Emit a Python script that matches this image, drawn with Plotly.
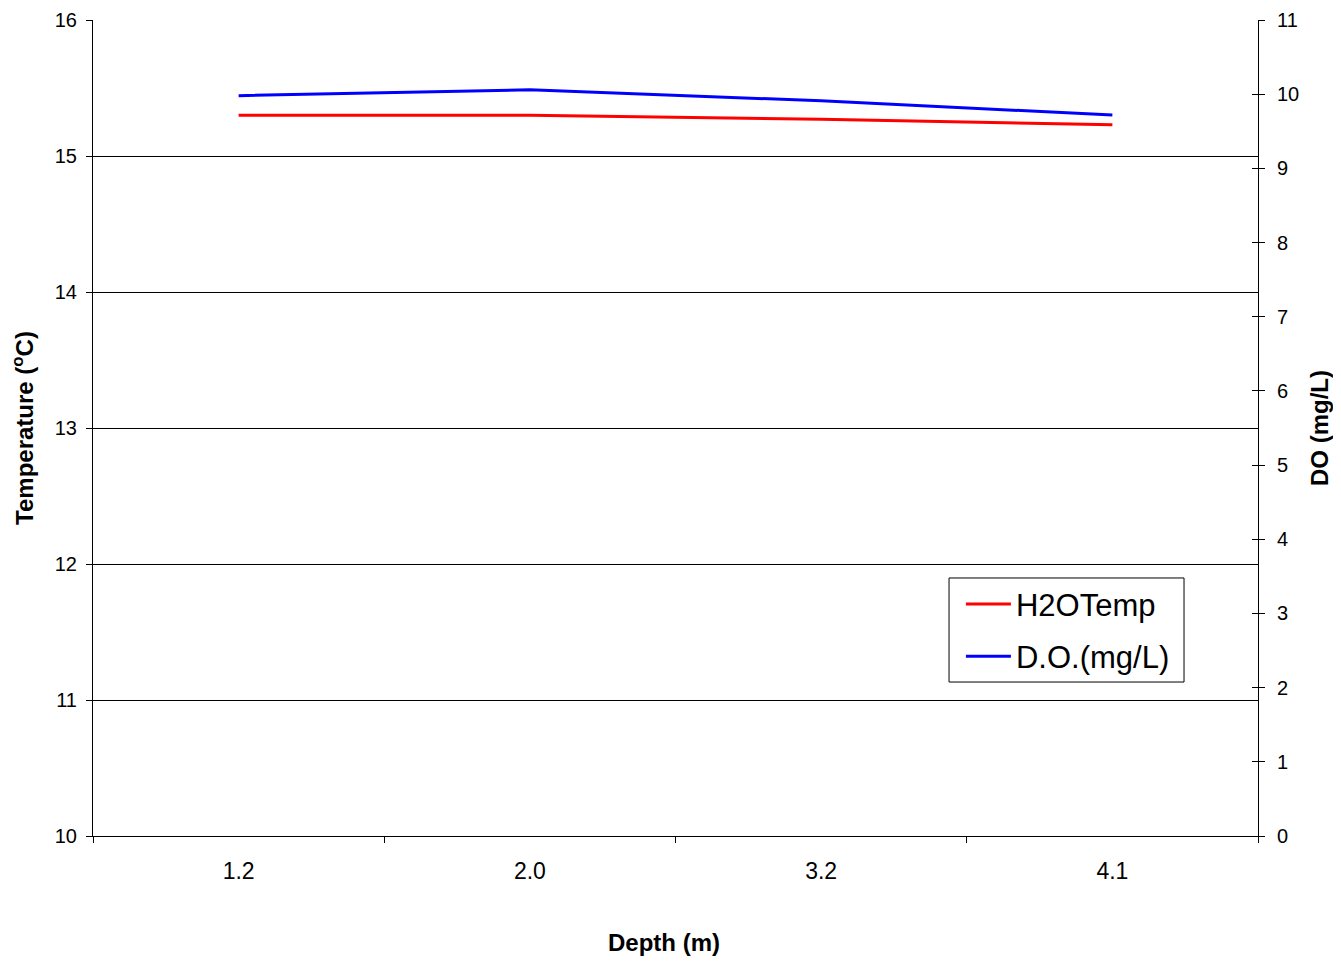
import plotly.graph_objects as go

depth = ["1.2", "2.0", "3.2", "4.1"]
h2o_temp = [15.30, 15.30, 15.27, 15.23]
do_mgl = [9.98, 10.06, 9.91, 9.72]

font_family = "Liberation Sans, Arial, sans-serif"

fig = go.Figure()
fig.add_trace(go.Scatter(x=depth, y=h2o_temp, name="H2OTemp", mode="lines",
                         legendgroup="a",
                         line=dict(color="#ff0000", width=3), yaxis="y"))
fig.add_trace(go.Scatter(x=depth, y=do_mgl, name="D.O.(mg/L)", mode="lines",
                         legendgroup="b",
                         line=dict(color="#0000ff", width=3), yaxis="y2"))
# invisible helper trace to activate the inside tick axis on the right
fig.add_trace(go.Scatter(x=depth, y=do_mgl, yaxis="y3", mode="lines",
                         line=dict(width=0), showlegend=False, hoverinfo="skip", opacity=0))

# legend frame
fig.add_shape(type="rect", xref="paper", yref="paper",
              x0=0.7348, x1=0.9365, y0=0.1887, y1=0.3162,
              line=dict(color="black", width=1), fillcolor="white", layer="below")

# x-axis title (slightly left of plot centre, as in the reference)
fig.add_annotation(text="<b>Depth (m)</b>", xref="paper", yref="paper",
                   x=0.490, y=-0.131, xanchor="center", yanchor="middle",
                   showarrow=False, font=dict(size=24, family=font_family))

fig.update_layout(
    width=1325, height=953,
    margin=dict(l=85, r=75, t=12, b=125, autoexpand=False),
    paper_bgcolor="white", plot_bgcolor="white",
    font=dict(family=font_family, size=20, color="black"),
    showlegend=True,
    legend=dict(x=0.745, y=0.317, xanchor="left", yanchor="top",
                borderwidth=0, bgcolor="rgba(0,0,0,0)", itemwidth=45,
                font=dict(size=31, family=font_family), tracegroupgap=9),
    xaxis=dict(type="category", range=[-0.5, 3.5], tickson="boundaries",
               automargin=False,
               ticks="outside", ticklen=6, tickcolor="black",
               showline=True, linecolor="black", linewidth=1,
               showgrid=False, zeroline=False, ticklabelstandoff=14,
               tickfont=dict(size=23)),
    yaxis=dict(range=[10, 16], dtick=1, ticks="outside", ticklen=6, tickcolor="black",
               automargin=False,
               showline=True, linecolor="black", linewidth=1, ticklabelstandoff=5,
               showgrid=True, gridcolor="black", gridwidth=1, zeroline=False,
               tickfont=dict(size=20),
               title=dict(text="<b>Temperature (<sup>o</sup>C)</b>", font=dict(size=24), standoff=18)),
    yaxis2=dict(range=[0, 11], dtick=1, overlaying="y", side="right",
                automargin=False,
                ticks="outside", ticklen=6, tickcolor="black", ticklabelstandoff=8,
                showline=True, linecolor="black", linewidth=1,
                showgrid=False, zeroline=False,
                tickfont=dict(size=20),
                title=dict(text="<b>DO (mg/L)</b>", font=dict(size=24), standoff=22)),
    yaxis3=dict(range=[0, 11], dtick=1, overlaying="y", side="right", anchor="x",
                automargin=False,
                ticks="inside", ticklen=6, tickcolor="black",
                showticklabels=False, showline=False, showgrid=False, zeroline=False),
)

fig.write_html("out.html")
